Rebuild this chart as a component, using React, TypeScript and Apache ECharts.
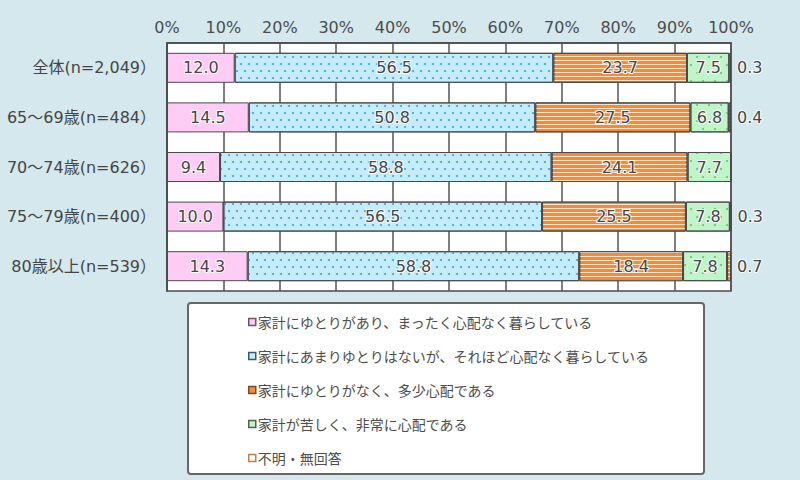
import React, { useEffect, useRef } from "react";
import * as echarts from "echarts";

const categories = ["全体(n=2,049）", "65～69歳(n=484）", "70～74歳(n=626）", "75～79歳(n=400）", "80歳以上(n=539）"];
const seriesNames = [
  "家計にゆとりがあり、まったく心配なく暮らしている",
  "家計にあまりゆとりはないが、それほど心配なく暮らしている",
  "家計にゆとりがなく、多少心配である",
  "家計が苦しく、非常に心配である",
  "不明・無回答",
];
const comfortable = [12.0, 14.5, 9.4, 10.0, 14.3];
const notWorried = [56.5, 50.8, 58.8, 56.5, 58.8];
const somewhatWorried = [23.7, 27.5, 24.1, 25.5, 18.4];
const veryWorried = [7.5, 6.8, 7.7, 7.8, 7.8];
const noAnswer = [0.3, 0.4, 0, 0.3, 0.7];
const xTicks = [0, 10, 20, 30, 40, 50, 60, 70, 80, 90, 100];

const FONT = "'Noto Sans CJK JP', 'Noto Sans', sans-serif";
const NUMFONT = "'DejaVu Sans', 'Noto Sans CJK JP', sans-serif";

export default function App() {
  const ref = useRef<HTMLDivElement>(null);
  useEffect(() => {
    if (!ref.current) return;
    const chart = echarts.init(ref.current, null, { renderer: "svg" });
    const label = {
      show: true,
      position: "inside",
      color: "#454545",
      fontSize: 16,
      fontFamily: NUMFONT,
      textBorderColor: "#fff",
      textBorderWidth: 2,
      formatter: (p: any) => (p.value ? Number(p.value).toFixed(1) : ""),
    };
    const base = (name: string, data: number[], color: string, decal: any, lbl: any) => ({
      name,
      type: "bar",
      stack: "total",
      data,
      barWidth: 30,
      itemStyle: { color, borderColor: "#4a4a4a", borderWidth: 1, decal },
      label: lbl,
      emphasis: { disabled: true },
    });
    chart.setOption({
      animation: false,
      backgroundColor: "#d4e8ed",
      textStyle: { fontFamily: FONT },
      aria: { enabled: false, decal: { show: true } },
      grid: { left: 167, right: 69, top: 43, height: 248, show: true, backgroundColor: "#fff", borderColor: "#4a4a4a", borderWidth: 1.5 },
      xAxis: {
        type: "value",
        position: "top",
        min: 0,
        max: 100,
        interval: 10,
        axisLabel: { formatter: (v: number) => (xTicks.includes(v) ? v + "%" : ""), color: "#4d4d4d", fontSize: 16, fontFamily: NUMFONT, margin: 8 },
        axisLine: { show: true, lineStyle: { color: "#4a4a4a", width: 1.5 } },
        axisTick: { show: false },
        splitLine: { show: true, lineStyle: { color: "#555", width: 1.5 } },
      },
      yAxis: {
        type: "category",
        data: categories,
        inverse: true,
        axisLabel: { color: "#454545", fontSize: 16, fontFamily: NUMFONT, margin: 11 },
        axisLine: { show: true, lineStyle: { color: "#4a4a4a", width: 1.5 } },
        axisTick: { show: false },
      },
      legend: {
        orient: "vertical",
        left: 243,
        top: 310,
        itemWidth: 7,
        itemHeight: 7,
        itemGap: 20,
        icon: "rect",
        textStyle: { color: "#4d4d4d", fontSize: 14, fontFamily: FONT, padding: [0, 0, 0, -3] },
        data: seriesNames.map((n, i) => ({
          name: n,
          itemStyle: {
            color: ["#ffccf5", "#c4ecfd", "#f68b33", "#bff5c9", "#fff"][i],
            borderColor: ["#6b5566", "#3f5866", "#7a4a2a", "#4f6652", "#c97b3e"][i],
            borderWidth: 1.5,
            decal: "none",
          },
        })),
        selectedMode: false,
      },
      graphic: [
        {
          type: "rect",
          left: 187,
          top: 302,
          z: 0,
          shape: { width: 516, height: 171, r: 3 },
          style: { fill: "#fff", stroke: "#666", lineWidth: 2 },
        },
      ],
      series: [
        base(seriesNames[0], comfortable, "#ffccf5", "none", label),
        base(seriesNames[1], notWorried, "#c4ecfd", {
          symbol: "circle",
          symbolSize: 1,
          color: "#3aa3e4",
          dashArrayX: [[2, 6], [0, 4, 2, 2]],
          dashArrayY: [2, 5],
        }, label),
        base(seriesNames[2], somewhatWorried, "#f68b33", {
          symbol: "rect",
          symbolSize: 1,
          color: "rgba(255,255,255,0.75)",
          dashArrayX: [1, 0],
          dashArrayY: [1, 3],
        }, label),
        base(seriesNames[3], veryWorried, "#bff5c9", {
          symbol: "circle",
          symbolSize: 1,
          color: "#6cbf7a",
          dashArrayX: [[2, 10], [0, 6, 2, 4]],
          dashArrayY: [2, 6],
        }, label),
        base(seriesNames[4], noAnswer, "#f68b33", {
          symbol: "rect",
          symbolSize: 1,
          color: "rgba(255,255,255,0.75)",
          dashArrayX: [1, 0],
          dashArrayY: [1, 3],
        }, { ...label, position: "right", distance: 6 }),
      ],
    });
    return () => chart.dispose();
  }, []);
  return <div ref={ref} style={{ position: "fixed", left: 0, top: 0, width: 800, height: 480 }} />;
}
